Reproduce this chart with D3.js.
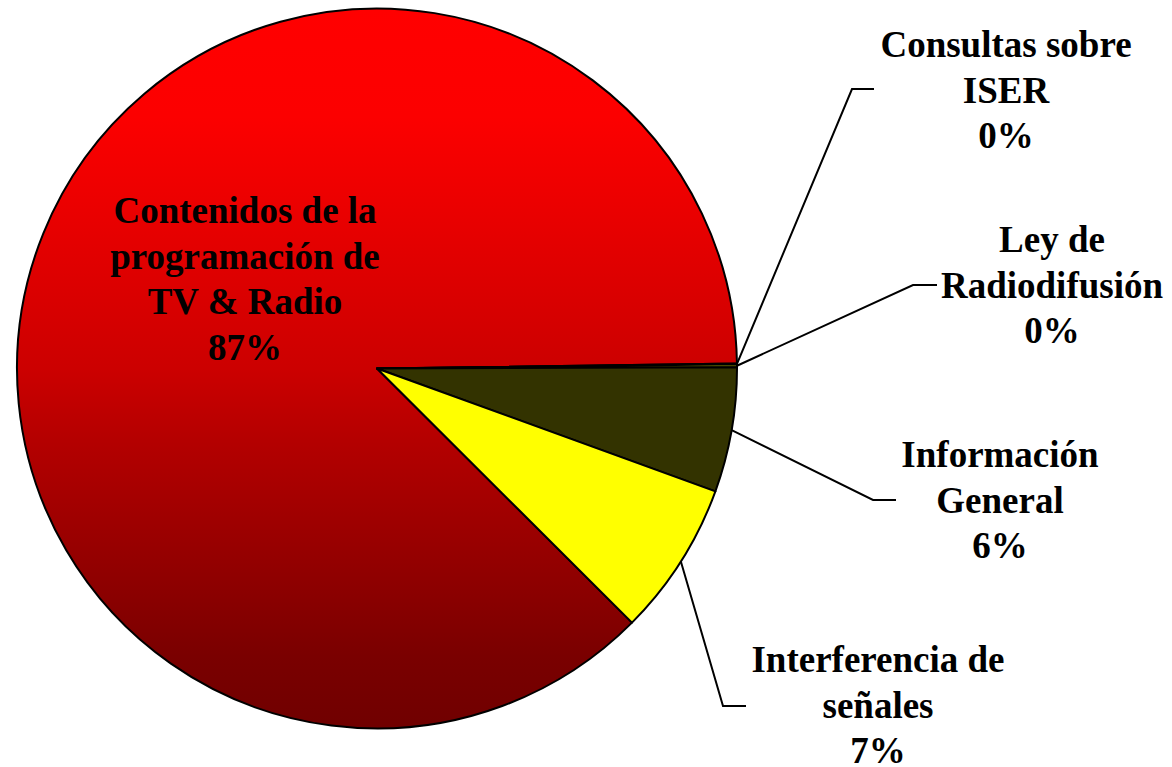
<!DOCTYPE html>
<html>
<head>
<meta charset="utf-8">
<script src="https://cdn.jsdelivr.net/npm/d3@7"></script>
<style>
  body { margin: 0; background: #fff; }
  text { font-family: "Liberation Serif", "Times New Roman", serif; font-weight: bold; }
</style>
</head>
<body>
<svg id="chart" width="1172" height="767"></svg>
<script>
// data (shares in %)
var categories = [
  "Contenidos de la programación de TV & Radio",
  "Consultas sobre ISER",
  "Ley de Radiodifusión",
  "Información General",
  "Interferencia de señales"
];
var values = [87.31, 0.03, 0.13, 5.6, 6.93];
var labelLines = [
  ["Contenidos de la", "programación de", "TV & Radio"],
  ["Consultas sobre", "ISER"],
  ["Ley de", "Radiodifusión"],
  ["Información", "General"],
  ["Interferencia de", "señales"]
];

// layout bits, kept apart from the data
var cx = 377, cy = 368.5, r = 360;
var fills = ["url(#redGrad)", "#9999ff", "url(#oliveGrad)", "#333300", "#ffff00"];
// label centre x / first baseline, and leader elbow + end (null = label inside)
var labelPos = [
  {x: 245, y: 223, elbow: null},
  {x: 1006, y: 57, elbow: [852, 89], end: [874, 89]},
  {x: 1052, y: 252, elbow: [913, 285], end: [937, 285]},
  {x: 1000, y: 467, elbow: [873, 500], end: [896, 500]},
  {x: 878, y: 672, elbow: [723, 706], end: [746, 706]}
];
var lineH = 45.5;

var svg = d3.select("#chart");
var defs = svg.append("defs");

// gradient runs in the pie group's own space (centred on 0,0)
var rg = defs.append("linearGradient").attr("id", "redGrad")
    .attr("gradientUnits", "userSpaceOnUse")
    .attr("x1", 0).attr("y1", -r).attr("x2", 0).attr("y2", r);
rg.append("stop").attr("offset", "0").attr("stop-color", "#ff0000");
rg.append("stop").attr("offset", "0.15").attr("stop-color", "#fc0000");
rg.append("stop").attr("offset", "0.5").attr("stop-color", "#cc0000");
rg.append("stop").attr("offset", "0.6").attr("stop-color", "#b40000");
rg.append("stop").attr("offset", "0.9").attr("stop-color", "#7a0000");
rg.append("stop").attr("offset", "1").attr("stop-color", "#700000");

var og = defs.append("linearGradient").attr("id", "oliveGrad")
    .attr("x1", 0).attr("y1", 0).attr("x2", 0).attr("y2", 1);
og.append("stop").attr("offset", "0").attr("stop-color", "#a0a000");
og.append("stop").attr("offset", "1").attr("stop-color", "#6b6b00");

var total = d3.sum(values);
var pie = d3.pie().sort(null)
    .startAngle(134.9 * Math.PI / 180)
    .endAngle(134.9 * Math.PI / 180 + 2 * Math.PI);
var arcs = pie(values);

var arc = d3.arc().innerRadius(0).outerRadius(r);
var edge = d3.arc().innerRadius(r).outerRadius(r);

var g = svg.append("g").attr("transform", "translate(" + cx + "," + cy + ")");

g.selectAll("path.slice")
  .data(arcs)
  .enter().append("path")
    .attr("class", "slice")
    .attr("d", arc)
    .attr("fill", function(d, i) { return fills[i]; })
    .attr("stroke", "#000")
    .attr("stroke-width", 2)
    .attr("stroke-linejoin", "round");

// leader lines
arcs.forEach(function(d, i) {
  var p = labelPos[i];
  if (!p.elbow) return;
  var s = edge.centroid(d);
  var pts = [[s[0] + cx, s[1] + cy], p.elbow, p.end];
  svg.append("path")
    .attr("d", d3.line()(pts))
    .attr("fill", "none")
    .attr("stroke", "#000")
    .attr("stroke-width", 2);
});

// labels
arcs.forEach(function(d, i) {
  var p = labelPos[i];
  var lines = labelLines[i].concat([Math.round(values[i] / total * 100) + "%"]);
  var t = svg.append("text")
    .attr("text-anchor", "middle")
    .attr("font-size", 37)
    .attr("fill", "#000");
  lines.forEach(function(l, k) {
    t.append("tspan").attr("x", p.x).attr("y", p.y + k * lineH).text(l);
  });
});
</script>
</body>
</html>
